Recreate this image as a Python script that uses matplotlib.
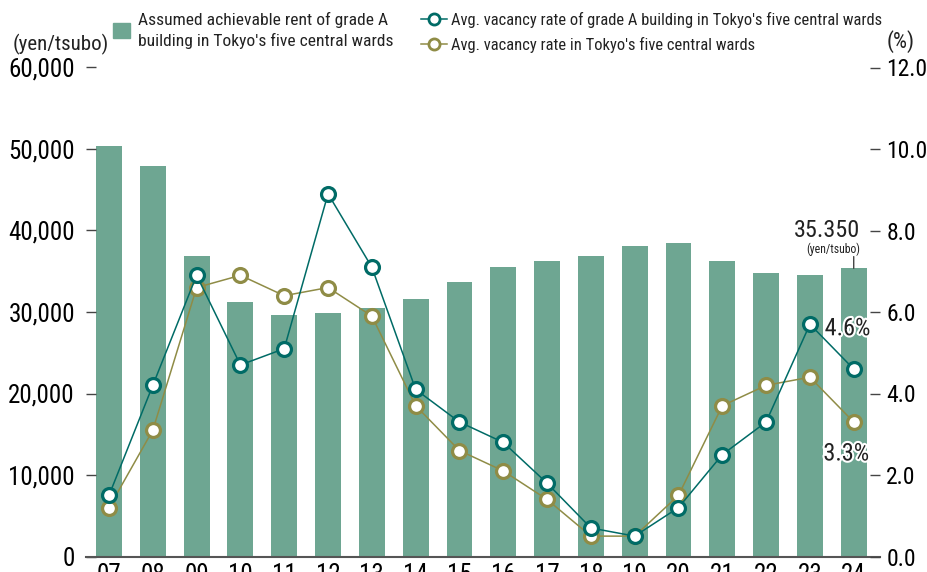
import os
import matplotlib
matplotlib.use("Agg")
import matplotlib.pyplot as plt
import matplotlib.patheffects as pe
from matplotlib import font_manager
from matplotlib.lines import Line2D
from matplotlib.patches import Patch
from matplotlib.ticker import FuncFormatter


def pick_narrow_font():
    # look for a condensed / narrow regular face among the installed fonts
    prefs = ["roboto", "liberation", "noto", "opensans", "open", "dejavu", "lato", "inter"]
    found = []
    for f in font_manager.fontManager.ttflist:
        base = os.path.basename(f.fname).lower()
        if not ("condensed" in base or "narrow" in base):
            continue
        if "extracondensed" in base or "semicondensed" in base or "ultra" in base:
            continue
        if f.style != "normal" or f.weight not in (400, "normal", "regular"):
            continue
        rank = next((i for i, p in enumerate(prefs) if base.startswith(p)), 99)
        found.append((rank, f))
    if not found:
        return "DejaVu Sans", "normal"
    found.sort(key=lambda t: t[0])
    f = found[0][1]
    return f.name, f.stretch


FONT, STRETCH = pick_narrow_font()
plt.rcParams["font.family"] = [FONT, "DejaVu Sans"]
plt.rcParams["font.stretch"] = STRETCH

years = ["07", "08", "09", "10", "11", "12", "13", "14", "15", "16",
         "17", "18", "19", "20", "21", "22", "23", "24"]
rent = [50400, 47950, 36900, 31250, 29650, 29900, 30550, 31600, 33700, 35500,
        36250, 36900, 38150, 38450, 36250, 34800, 34550, 35350]
vacancy_grade_a = [1.5, 4.2, 6.9, 4.7, 5.1, 8.9, 7.1, 4.1, 3.3, 2.8,
                   1.8, 0.7, 0.5, 1.2, 2.5, 3.3, 5.7, 4.6]
vacancy_all = [1.2, 3.1, 6.6, 6.9, 6.4, 6.6, 5.9, 3.7, 2.6, 2.1,
               1.4, 0.5, 0.5, 1.5, 3.7, 4.2, 4.4, 3.3]

BAR = "#6ea692"
TEAL = "#006b66"
OLIVE = "#8f8c46"
TXT = "#222222"

narrow = FONT != "DejaVu Sans"
scale = 1.0 if narrow else 0.75
BIG = 18 * scale
RIGHT = 17 * scale
NOTE = 17.5 * scale
LEG1 = 12.6 * scale
LEG2 = 11.9 * scale

fig = plt.figure(figsize=(9.28, 5.72), dpi=100)
ax = fig.add_axes([86 / 928, 1 - 556.5 / 572, (880 - 86) / 928, (556.5 - 67.5) / 572])
x = list(range(len(years)))

ax.bar(x, rent, width=0.59, color=BAR, zorder=1)
ax.set_ylim(0, 60000)
ax.set_xlim(-0.525, 17.6)
ax.set_yticks(range(0, 60001, 10000))
ax.yaxis.set_major_formatter(FuncFormatter(lambda v, p: f"{int(v):,}"))
ax.set_xticks(x)
ax.set_xticklabels(years)
ax.tick_params(axis="y", direction="in", length=7, width=1, color="#444444",
               labelsize=BIG, pad=8, labelcolor="black")
ax.tick_params(axis="x", length=0, labelsize=BIG, pad=5, labelcolor="black")
for s in ["left", "right", "top"]:
    ax.spines[s].set_visible(False)
ax.spines["bottom"].set_color("#555555")
ax.spines["bottom"].set_linewidth(1.5)

ax2 = ax.twinx()
ax2.set_ylim(0, 12)
ax2.set_yticks([0, 2, 4, 6, 8, 10, 12])
ax2.yaxis.set_major_formatter(FuncFormatter(lambda v, p: f"{v:.1f}"))
ax2.tick_params(axis="y", direction="in", length=7, width=1, color="#444444",
                labelsize=RIGHT, pad=4.5, labelcolor="black")
for s in ["left", "right", "top", "bottom"]:
    ax2.spines[s].set_visible(False)

mk = dict(marker="o", markersize=10, markerfacecolor="white", markeredgewidth=2.3, linewidth=1.1)
ax2.plot(x, vacancy_all, color=OLIVE, markeredgecolor=OLIVE, zorder=3, **mk)
ax2.plot(x, vacancy_grade_a, color=TEAL, markeredgecolor=TEAL, zorder=4, **mk)

# value notes
stroke = [pe.withStroke(linewidth=3, foreground="white")]
ax2.annotate(f"{vacancy_grade_a[-1]:.1f}%", xy=(x[-1], vacancy_grade_a[-1]), xytext=(12, 29),
             textcoords="offset points", ha="right", va="center", fontsize=NOTE,
             color=TXT, path_effects=stroke, zorder=6)
ax2.annotate(f"{vacancy_all[-1]:.1f}%", xy=(x[-1], vacancy_all[-1]), xytext=(11, -23),
             textcoords="offset points", ha="right", va="center", fontsize=NOTE,
             color=TXT, path_effects=stroke, zorder=6)
last = f"{rent[-1]:,}".replace(",", ".")
ax.annotate(last, xy=(x[-1], rent[-1]), xytext=(4.5, 27),
            textcoords="offset points", ha="right", va="center", fontsize=NOTE, color=TXT)
ax.annotate("(yen/tsubo)", xy=(x[-1], rent[-1]), xytext=(4.5, 13.5),
            textcoords="offset points", ha="right", va="center", fontsize=8.5 * scale, color=TXT)
ax.annotate("", xy=(x[-1], rent[-1]), xytext=(0, 8.5), textcoords="offset points",
            arrowprops=dict(arrowstyle="-", color="#444444", lw=1, shrinkA=0, shrinkB=0))

# axis unit labels
fig.text(13 / 928, 1 - 44 / 572, "(yen/tsubo)", fontsize=15 * scale, color=TXT, ha="left", va="center")
fig.text(887 / 928, 1 - 42 / 572, "(%)", fontsize=16 * scale, color=TXT, ha="left", va="center")

# legends
leg1 = fig.legend(handles=[Patch(color=BAR)],
                  labels=["Assumed achievable rent of grade A\nbuilding in Tokyo's five central wards"],
                  loc="upper left", bbox_to_anchor=(106 / 928, 1 - 5 / 572), frameon=False,
                  fontsize=LEG1, handlelength=0.95, handleheight=0.95, handletextpad=0.5,
                  labelcolor=TXT, borderaxespad=0)
for t in leg1.get_texts():
    t.set_linespacing(1.35)
leg2 = fig.legend(handles=[Line2D([], [], color=TEAL, markeredgecolor=TEAL, **mk),
                           Line2D([], [], color=OLIVE, markeredgecolor=OLIVE, **mk)],
                  labels=["Avg. vacancy rate of grade A building in Tokyo's five central wards",
                          "Avg. vacancy rate in Tokyo's five central wards"],
                  loc="upper left", bbox_to_anchor=(414 / 928, 1 - 5 / 572), frameon=False,
                  fontsize=LEG2, handlelength=1.6, handletextpad=0.25, labelspacing=0.55,
                  labelcolor=TXT, borderaxespad=0)
for h in leg2.legend_handles:
    h.set_markersize(8)
    h.set_markeredgewidth(2)

fig.savefig("out.png", dpi=100)
